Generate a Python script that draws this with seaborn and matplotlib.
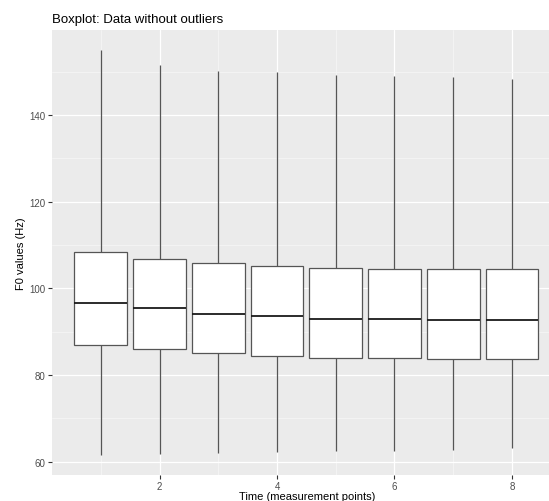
import matplotlib
matplotlib.use("Agg")
import matplotlib.pyplot as plt
from matplotlib.ticker import MultipleLocator
import numpy as np
import pandas as pd
import seaborn as sns

# F0 summary per measurement point (Hz): whisker ends, quartiles, median
time_points = [1, 2, 3, 4, 5, 6, 7, 8]
whisker_low = [61.5, 61.8, 62.0, 62.3, 62.5, 62.5, 62.8, 63.1]
q1 = [87.0, 86.1, 85.1, 84.4, 83.9, 83.9, 83.8, 83.8]
median = [96.7, 95.4, 94.2, 93.6, 93.0, 92.9, 92.7, 92.8]
q3 = [108.4, 106.8, 105.8, 105.2, 104.8, 104.4, 104.4, 104.4]
whisker_high = [155.1, 151.5, 150.2, 149.9, 149.2, 148.9, 148.7, 148.3]

x_ticks = [2, 4, 6, 8]
y_ticks = [60, 80, 100, 120, 140]

# five values per point reproduce exactly these box statistics
rows = []
for t, lo, a, m, b, hi in zip(time_points, whisker_low, q1, median, q3, whisker_high):
    for v in (lo, a, m, b, hi):
        rows.append({"time": t, "f0": v})
df = pd.DataFrame(rows)

sns.set_theme(style="darkgrid")
plt.rcParams["font.family"] = ["Liberation Sans", "DejaVu Sans"]

fig = plt.figure(figsize=(5.49, 5.02), dpi=100)
ax = fig.add_axes([52 / 549, 1 - 475.7 / 502, 497 / 549, (475.7 - 30.7) / 502])
ax.set_facecolor("#EBEBEB")

sns.boxplot(
    data=df, x="time", y="f0", native_scale=True, width=0.9,
    whis=(0, 100), showcaps=False, showfliers=False,
    color="white", linecolor="#555555", linewidth=0.9,
    medianprops={"color": "#1a1a1a", "linewidth": 1.3},
    ax=ax, zorder=3,
)

ax.set_xlim(0.17, 8.63)
ax.set_ylim(57.0, 159.7)
ax.set_xticks(x_ticks)
ax.set_yticks(y_ticks)
ax.set_xticklabels([str(v) for v in x_ticks])
ax.set_yticklabels([str(v) for v in y_ticks])
ax.xaxis.set_minor_locator(MultipleLocator(1))
ax.yaxis.set_minor_locator(MultipleLocator(10))

ax.grid(which="major", color="white", linewidth=0.9, zorder=0)
ax.grid(which="minor", color="#f7f7f7", linewidth=0.5, zorder=0)
ax.set_axisbelow(True)
for s in ax.spines.values():
    s.set_visible(False)

ax.tick_params(which="major", length=3, width=0.8, color="#333333",
               labelsize=7, labelcolor="#4d4d4d", pad=1.5,
               bottom=True, left=True)
ax.tick_params(which="minor", length=0, bottom=False, left=False)

ax.set_xlabel("Time (measurement points)", fontsize=8, color="black")
ax.set_ylabel("F0 values (Hz)", fontsize=8, color="black")
# centre the x label on the full panel width
ax.xaxis.set_label_coords((307 - 52) / 497, -0.036)
ax.yaxis.set_label_coords(-(52 - 26) / 497, 0.5)

fig.text(52 / 549, 1 - 20 / 502, "Boxplot: Data without outliers",
         fontsize=9.5, color="black", ha="left", va="center")

fig.savefig("out.png", dpi=100)
